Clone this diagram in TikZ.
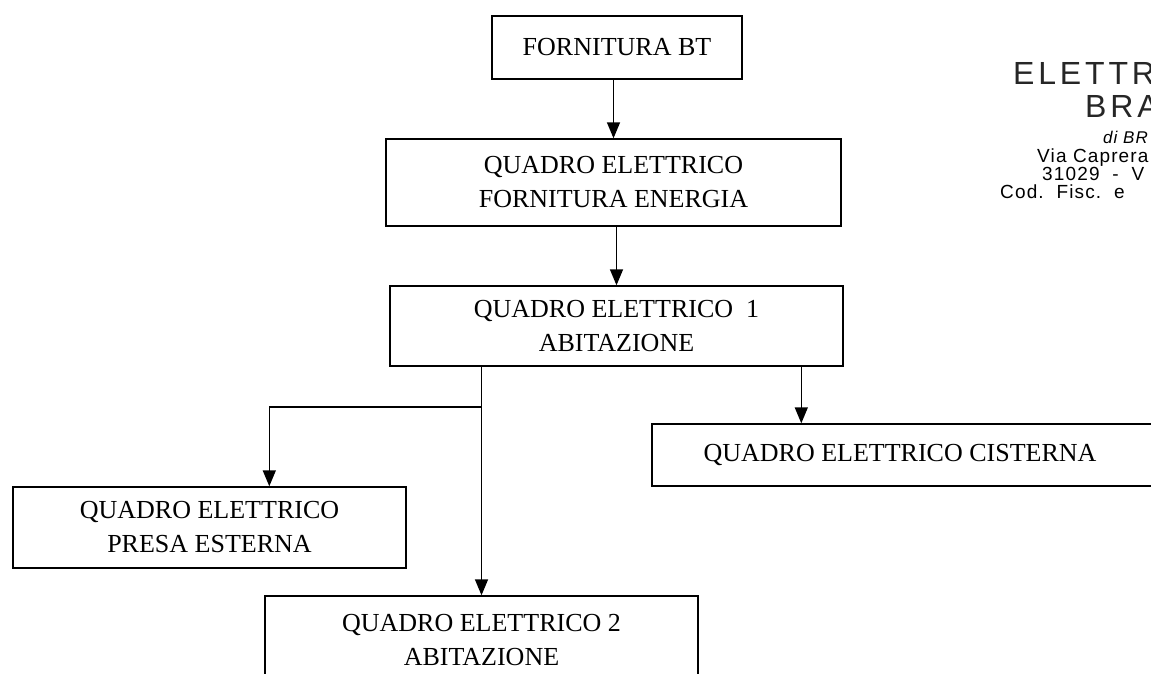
\documentclass[tikz,border=0pt]{standalone}
\usepackage{fontspec}
\setmainfont{Liberation Serif}
\newfontfamily\logofont[LetterSpace=12]{Liberation Sans}
\newfontfamily\addrfont[LetterSpace=6]{Liberation Sans}
\usetikzlibrary{arrows.meta}
\tikzset{
  box/.style={draw=black, line width=1.4pt, inner sep=0pt, align=center,
    font=\fontsize{26}{34}\selectfont},
  arr/.style={line width=1.5pt, -{Triangle[length=16pt,width=13pt]}},
  logo/.style={inner sep=0pt, anchor=base west, text=black!85},
  addr/.style={inner sep=0pt, anchor=base west, font=\addrfont\fontsize{19}{20}\selectfont}
}
\begin{document}
\begin{tikzpicture}[x=1pt,y=-1pt]
\useasboundingbox (0,0) rectangle (1151,674);
\clip (0,0) rectangle (1151,674);
\fill[white] (0,0) rectangle (1151,674);

% boxes
\node[box, minimum width=250pt, minimum height=63pt] (bt) at (617,47.5) {FORNITURA BT};
\node[box, minimum width=455pt, minimum height=87pt] (qfe) at (613.5,182.5) {QUADRO ELETTRICO\\FORNITURA ENERGIA};
\node[box, minimum width=453pt, minimum height=80pt] (qe1) at (616.5,326) {QUADRO ELETTRICO\ \ 1\\ABITAZIONE};
\node[box, minimum width=518pt, minimum height=62pt] (cis) at (911,455) {\hspace*{-22pt}QUADRO ELETTRICO CISTERNA};
\node[box, minimum width=393pt, minimum height=81pt] (presa) at (209.5,527.5) {QUADRO ELETTRICO\\PRESA ESTERNA};
\node[box, minimum width=433pt, minimum height=88pt] (qe2) at (481.5,640) {QUADRO ELETTRICO 2\\ABITAZIONE};

% connector end points
\coordinate (j) at (qe2.north |- 0,407);
\coordinate (pin) at ([xshift=257pt]presa.north west);
\coordinate (cin) at ([xshift=150pt]cis.north west);

% connectors
\draw[arr] (bt.south -| qfe.north) -- (qfe.north);
\draw[arr] (qfe.south -| qe1.north) -- (qe1.north);
\draw[arr] (qe1.south -| qe2.north) -- (qe2.north);
\draw[arr] (j) -| (pin);
\draw[arr] (qe1.south -| cin) -- (cin);

% letterhead (cut at the right edge)
\node[logo, font=\logofont\fontsize{32}{36}\selectfont] (l1) at (1013,85) {ELETTR};
\node[logo, font=\logofont\fontsize{32}{36}\selectfont] (l2) at (1085,118) {BRA};
\node[addr, font=\addrfont\itshape\fontsize{17}{18}\selectfont] (l3) at (1103,143) {di BR};
\node[addr] (l4) at (1037,162) {Via Caprera};
\node[addr] (l5) at (1042,180) {31029 \ - \ V};
\node[addr] (l6) at (1000,198) {Cod.\ \ Fisc.\ \ e};
\end{tikzpicture}
\end{document}
